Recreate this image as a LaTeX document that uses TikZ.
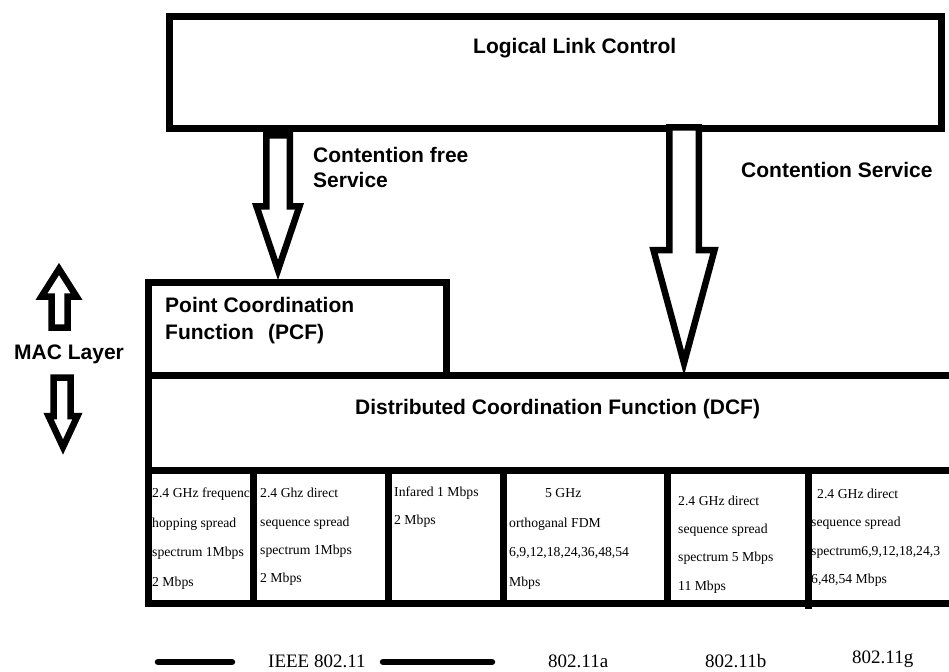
\documentclass[tikz,border=0pt]{standalone}
\usepackage{fontspec}
\setmainfont{Liberation Serif}
\newfontfamily\arialf{Liberation Sans}
\begin{document}
\begin{tikzpicture}[x=1pt,y=-1pt,
  box/.style={line width=7pt, line join=miter},
  arr/.style={line width=6.5pt, line join=miter, miter limit=20, fill=white},
  lbl/.style={font=\arialf\bfseries\fontsize{21}{25}\selectfont, inner sep=0pt, anchor=base west},
  cell/.style={font=\fontsize{13.7}{16}\selectfont, inner sep=0pt, anchor=base west},
  std/.style={font=\fontsize{19}{22}\selectfont, inner sep=0pt, anchor=base west},
  bar/.style={line width=6.5pt, line cap=round}]
\useasboundingbox[fill=white] (0,0) rectangle (949,671);
% boxes
\draw[box] (169.5,16.5) rectangle (941.5,128.5);
\draw[box] (148,282.5) rectangle (446,375.5);
\draw[box] (148,375.5) rectangle (965,470.5);
\draw[box] (148,470.5) rectangle (965,603.5);
\foreach \dx in {253.5,388.5,503.5,667.5}{\draw[box] (\dx,470.5) -- (\dx,603.5);}
\draw[box] (808.5,470.5) -- (808.5,609);
% block arrows
\draw[arr] (266.25,135.5) -- (266.25,206.25) -- (256.5,206.25) -- (278,270) -- (299.5,206.25) -- (289.75,206.25) -- (289.75,135.5) -- cycle;
\draw[arr] (669.25,127.5) -- (669.25,250) -- (653.5,250) -- (684,363) -- (714.5,250) -- (698.75,250) -- (698.75,127.5) -- cycle;
\draw[arr] (51.5,327.5) -- (51.5,296.5) -- (41.5,296.5) -- (59,269) -- (76.5,296.5) -- (67.5,296.5) -- (67.5,327.5) -- cycle;
\draw[arr] (53.5,377.5) -- (53.5,416) -- (48.5,416) -- (63,447) -- (77.5,416) -- (70.5,416) -- (70.5,377.5) -- cycle;
% labels
\node[lbl] (llc) at (473,54) {Logical Link Control};
\node[lbl] (cf1) at (313,162) {Contention free};
\node[lbl] (cf2) at (313,187) {Service};
\node[lbl] (cs) at (741,177.5) {Contention Service};
\node[lbl] (pcf1) at (165,312.5) {Point Coordination};
\node[lbl] (pcf2) at (165,339.5) {Function};
\node[lbl] (pcf3) at (268,339.5) {(PCF)};
\node[lbl] (mac) at (14,359.5) {MAC Layer};
\node[lbl] (dcf) at (355,414.5) {Distributed Coordination Function (DCF)};
% cells
\node[cell] (a1) at (152,497.5) {2.4 GHz frequenc};
\node[cell] (a2) at (152,527.5) {hopping spread};
\node[cell] (a3) at (152,556.5) {spectrum 1Mbps};
\node[cell] (a4) at (152,586.5) {2 Mbps};
\node[cell] (b1) at (260,497.5) {2.4 Ghz direct};
\node[cell] (b2) at (260,526.5) {sequence spread};
\node[cell] (b3) at (260,554.5) {spectrum 1Mbps};
\node[cell] (b4) at (260,582.5) {2 Mbps};
\node[cell] (c1) at (394,496.5) {Infared 1 Mbps};
\node[cell] (c2) at (394,524.5) {2 Mbps};
\node[cell] (d1) at (545,497.5) {5 GHz};
\node[cell] (d2) at (509,527.5) {orthoganal FDM};
\node[cell] (d3) at (509,556.5) {6,9,12,18,24,36,48,54};
\node[cell] (d4) at (509,586.5) {Mbps};
\node[cell] (e1) at (678,505.5) {2.4 GHz direct};
\node[cell] (e2) at (678,533.5) {sequence spread};
\node[cell] (e3) at (678,561.5) {spectrum 5 Mbps};
\node[cell] (e4) at (678,590.5) {11 Mbps};
\node[cell] (f1) at (817,498.5) {2.4 GHz direct};
\node[cell] (f2) at (811,526.5) {sequence spread};
\node[cell] (f3) at (811,555.5) {spectrum6,9,12,18,24,3};
\node[cell] (f4) at (811,583.5) {6,48,54 Mbps};
% bottom row
\coordinate (l1a) at (158,662);
\coordinate (l1b) at (232,662);
\coordinate (l2a) at (383,662);
\coordinate (l2b) at (492,662);
\draw[bar] (l1a) -- (l1b);
\draw[bar] (l2a) -- (l2b);
\node[std] (ieee) at (268,667) {IEEE 802.11};
\node[std] (s11a) at (548,667) {802.11a};
\node[std] (s11b) at (705,667) {802.11b};
\node[std] (s11g) at (852,663) {802.11g};
\end{tikzpicture}
\end{document}
